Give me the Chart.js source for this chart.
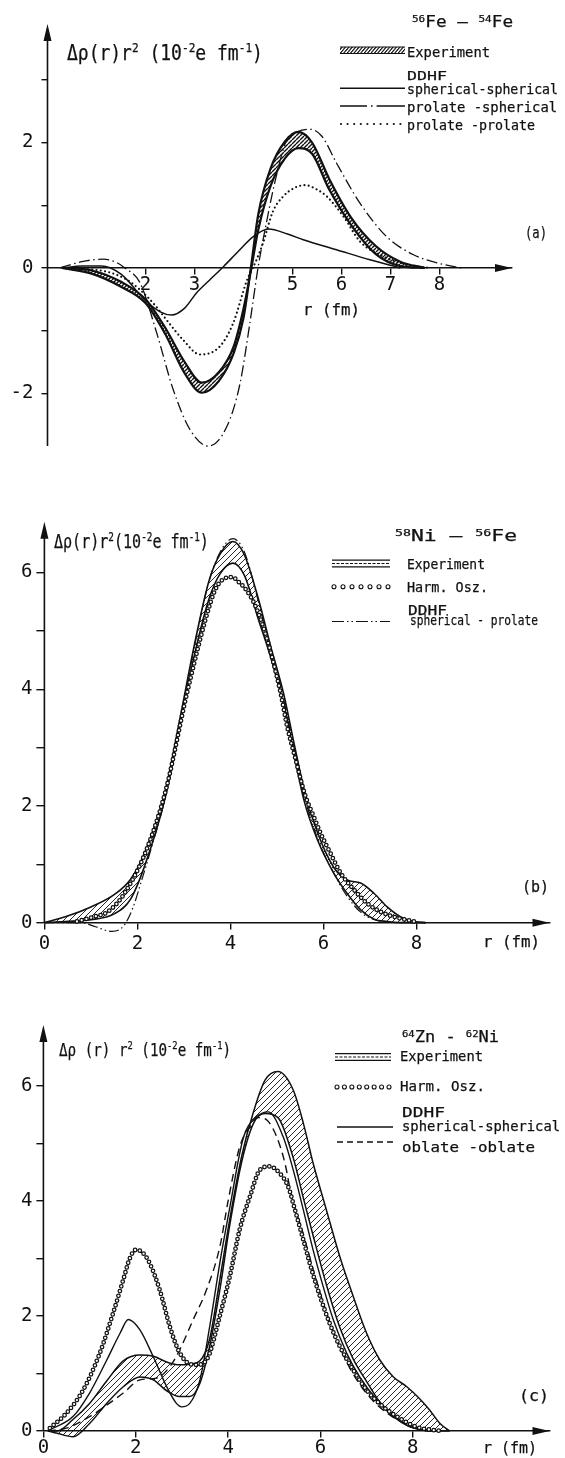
<!DOCTYPE html>
<html>
<head>
<meta charset="utf-8">
<script src="https://cdn.jsdelivr.net/npm/chart.js@4.4.1/dist/chart.umd.min.js"></script>
<style>
html, body { margin: 0; padding: 0; background: #fff; }
body { width: 565px; height: 1458px; position: relative; overflow: hidden; font-family: "DejaVu Sans Mono", monospace; color: #111; }
canvas { position: absolute; left: 0; }
.t { position: absolute; white-space: nowrap; line-height: 1; transform-origin: 0 0; -webkit-text-stroke: 0.25px #111; }
.t sup { font-size: 0.62em; vertical-align: 0; position: relative; top: -0.6em; }
#leg { position: absolute; left: 0; top: 0; }
</style>
</head>
<body>
<canvas id="cA" width="565" height="480" style="top:0"></canvas>
<canvas id="cB" width="565" height="490" style="top:480px"></canvas>
<canvas id="cC" width="565" height="510" style="top:970px"></canvas>
<svg id="leg" width="565" height="1458"></svg>
<script>
// (a) 56Fe - 54Fe
const rExpA = [0.3, 0.9, 1.5, 2.0, 2.4, 2.8, 3.15, 3.5, 3.8, 4.0, 4.15, 4.3, 4.55, 4.85, 5.12, 5.4, 5.75, 6.2, 6.7, 7.2, 7.7];
const expOuterA = [0, -0.09, -0.3, -0.56, -1.05, -1.68, -1.99, -1.8, -1.36, -0.8, 0.0, 0.85, 1.58, 2.02, 2.17, 2.0, 1.42, 0.8, 0.35, 0.1, 0];
const expInnerA = [0, -0.04, -0.22, -0.5, -0.95, -1.5, -1.83, -1.66, -1.25, -0.65, -0.05, 0.6, 1.3, 1.75, 1.91, 1.82, 1.25, 0.68, 0.22, 0.03, 0];
const rSphA = [0.3, 0.7, 1.1, 1.5, 2.0, 2.3, 2.53, 2.8, 3.04, 3.3, 3.59, 3.9, 4.2, 4.51, 4.9, 5.22, 5.9, 6.58, 7.2];
const sphSphA = [0, 0.03, 0.03, -0.1, -0.52, -0.7, -0.75, -0.64, -0.4, -0.2, 0.02, 0.27, 0.5, 0.62, 0.54, 0.45, 0.29, 0.13, 0];
const rProSphA = [0.26, 0.7, 1.14, 1.4, 1.58, 1.89, 2.23, 2.57, 2.91, 3.28, 3.66, 3.93, 4.13, 4.3, 4.45, 4.65, 4.88, 5.1, 5.36, 5.6, 5.9, 6.38, 6.92, 7.47, 8.0, 8.45];
const proSphA = [0, 0.1, 0.14, 0.09, 0, -0.24, -1.04, -1.95, -2.58, -2.84, -2.53, -1.84, -0.88, 0.02, 0.65, 1.4, 2.04, 2.17, 2.21, 2.1, 1.67, 1.03, 0.5, 0.21, 0.07, 0];
const rProProA = [0.3, 0.8, 1.21, 1.6, 1.89, 2.2, 2.43, 2.77, 3.11, 3.52, 3.79, 4.07, 4.25, 4.4, 4.6, 4.81, 5.05, 5.26, 5.5, 5.7, 6.04, 6.38, 6.8, 7.3, 7.8];
const proProA = [0, -0.02, -0.06, -0.18, -0.35, -0.6, -0.83, -1.15, -1.38, -1.25, -0.88, -0.2, 0.1, 0.4, 0.9, 1.14, 1.28, 1.32, 1.25, 1.14, 0.82, 0.42, 0.2, 0.06, 0];
const xTicksA = [2, 3, 5, 6, 7, 8];
const yTicksA = [-2, -1, 0, 1, 2, 3];
const yLabelsA = [-2, 0, 2];

// (b) 58Ni - 56Fe
const rExpB = [0, 0.45, 1.0, 1.5, 1.85, 2.15, 2.6, 2.92, 3.23, 3.54, 3.78, 4.05, 4.3, 4.6, 4.86, 5.15, 5.36, 5.58, 5.87, 6.22, 6.51, 6.8, 7.09, 7.37, 7.66, 7.95, 8.2];
const expOuterB = [0, 0.1, 0.27, 0.48, 0.74, 1.19, 2.27, 3.52, 4.78, 5.86, 6.32, 6.53, 6.3, 5.55, 4.75, 3.9, 3.1, 2.3, 1.55, 0.95, 0.73, 0.68, 0.5, 0.27, 0.1, 0.02, 0];
const expInnerB = [0, 0.02, 0.05, 0.15, 0.4, 0.96, 2.15, 3.4, 4.6, 5.55, 5.98, 6.16, 5.95, 5.2, 4.56, 3.7, 2.9, 2.1, 1.42, 0.85, 0.5, 0.22, 0.06, 0.02, 0, 0, 0];
const rHoB = [0.7, 1.06, 1.37, 1.72, 2.19, 2.61, 3.08, 3.57, 3.71, 3.88, 4.03, 4.2, 4.34, 4.54, 4.79, 5.08, 5.22, 5.4, 5.6, 5.8, 5.94, 6.15, 6.37, 6.66, 6.94, 7.3, 7.66, 7.95];
const hoB = [0.02, 0.1, 0.19, 0.5, 1.24, 2.27, 3.98, 5.48, 5.76, 5.9, 5.92, 5.82, 5.7, 5.42, 4.85, 3.93, 3.36, 2.8, 2.2, 1.8, 1.53, 1.19, 0.85, 0.56, 0.33, 0.16, 0.07, 0.02];
const rSphProB = [0, 0.8, 1.1, 1.45, 1.7, 1.9, 2.1, 2.3, 2.6, 2.92, 3.23, 3.54, 3.8, 4.05, 4.3, 4.6, 4.86, 5.15, 5.36, 5.58, 5.87, 6.22, 6.51, 6.8, 7.1, 7.5];
const sphProB = [0, 0, -0.07, -0.15, -0.06, 0.25, 0.75, 1.28, 2.15, 3.45, 4.75, 5.85, 6.38, 6.58, 6.35, 5.5, 4.65, 3.8, 3.0, 2.2, 1.45, 0.85, 0.45, 0.18, 0.05, 0];
const xTicksB = [0, 2, 4, 6, 8];
const yTicksB = [0, 1, 2, 3, 4, 5, 6];
const yLabelsB = [0, 2, 4, 6];

// (c) 64Zn - 62Ni
const rExpC = [0.1, 0.3, 0.64, 1.0, 1.37, 1.73, 2.09, 2.38, 2.67, 2.95, 3.17, 3.39, 3.6, 3.82, 4.04, 4.3, 4.55, 4.8, 5.08, 5.41, 5.63, 5.84, 6.13, 6.42, 6.71, 7.0, 7.29, 7.58, 7.87, 8.1, 8.35, 8.6, 8.8];
const expOuterC = [0, 0.0, 0.2, 0.48, 0.87, 1.22, 1.32, 1.3, 1.2, 1.15, 1.16, 1.22, 1.6, 2.63, 3.7, 4.8, 5.55, 6.1, 6.25, 5.93, 5.35, 4.66, 3.84, 3.03, 2.34, 1.7, 1.23, 0.94, 0.77, 0.6, 0.38, 0.12, 0];
const expInnerC = [0, -0.04, -0.1, 0.13, 0.48, 0.77, 0.94, 0.89, 0.7, 0.6, 0.6, 0.83, 1.47, 2.45, 3.6, 4.7, 5.35, 5.52, 5.45, 4.75, 4.05, 3.4, 2.54, 1.8, 1.25, 0.86, 0.5, 0.28, 0.1, 0.04, 0, 0, 0];
const rHoC = [0.14, 0.5, 0.86, 1.22, 1.51, 1.73, 1.87, 2.0, 2.15, 2.3, 2.52, 2.74, 2.92, 3.1, 3.32, 3.57, 3.82, 4.04, 4.25, 4.47, 4.69, 4.9, 5.12, 5.3, 5.45, 5.63, 5.81, 5.99, 6.2, 6.42, 6.71, 7.0, 7.36, 7.72, 8.08, 8.4, 8.65];
const hoC = [0.05, 0.31, 0.71, 1.35, 2.05, 2.63, 3.0, 3.15, 3.1, 2.92, 2.45, 1.81, 1.41, 1.2, 1.15, 1.29, 2.0, 2.7, 3.5, 4.07, 4.54, 4.6, 4.48, 4.25, 3.84, 3.32, 2.8, 2.34, 1.87, 1.47, 1.06, 0.71, 0.42, 0.22, 0.07, 0.02, 0];
const rSphC = [0.07, 0.64, 1.0, 1.37, 1.66, 1.84, 2.09, 2.38, 2.67, 2.88, 2.99, 3.17, 3.39, 3.6, 3.82, 4.04, 4.33, 4.6, 4.87, 5.19, 5.41, 5.63, 5.84, 6.06, 6.28, 6.57, 6.85, 7.22, 7.58, 7.94, 8.3];
const sphSphC = [0, 0.25, 0.66, 1.23, 1.7, 1.94, 1.76, 1.29, 0.77, 0.48, 0.42, 0.48, 0.89, 1.81, 2.92, 3.9, 5.1, 5.45, 5.55, 5.12, 4.54, 3.84, 3.15, 2.51, 1.93, 1.35, 0.94, 0.54, 0.25, 0.07, 0];
const rOblC = [0.1, 0.5, 1.0, 1.37, 1.73, 2.09, 2.45, 2.74, 2.95, 3.24, 3.53, 3.82, 4.0, 4.25, 4.47, 4.65, 4.85, 5.05, 5.23, 5.37, 5.6, 5.9, 6.2, 6.6, 7.0, 7.5, 8.0, 8.4];
const oblC = [0, 0.05, 0.25, 0.45, 0.66, 0.89, 0.92, 1.12, 1.41, 1.93, 2.45, 3.2, 4.0, 4.94, 5.29, 5.45, 5.4, 5.12, 4.66, 4.1, 3.5, 2.65, 1.9, 1.15, 0.65, 0.28, 0.08, 0];
const xTicksC = [0, 2, 4, 6, 8];
const yTicksC = [0, 1, 2, 3, 4, 5, 6];
const yLabelsC = [0, 2, 4, 6];

const INK = '#111';
const TICK_FONT = { family: 'DejaVu Sans Mono', size: 19 };

const pts = (rs, vs) => rs.map((r, i) => ({ x: r, y: vs[i] }));

function hatch(canvasId, step, lw) {
    const c = document.createElement('canvas');
    c.width = c.height = step;
    const g = c.getContext('2d');
    g.strokeStyle = INK;
    g.lineWidth = lw;
    g.beginPath();
    for (const o of [-step, 0, step]) {
        g.moveTo(o, step);
        g.lineTo(o + step, 0);
    }
    g.stroke();
    return document.getElementById(canvasId).getContext('2d').createPattern(c, 'repeat');
}

// axis line up the y side, plus the two arrow heads
const arrows = {
    id: 'arrows',
    afterDraw(chart, args, opts) {
        const { ctx, chartArea: a, scales: { x, y } } = chart;
        const x0 = x.getPixelForValue(0);
        const y0 = y.getPixelForValue(0);
        ctx.save();
        ctx.strokeStyle = INK;
        ctx.fillStyle = INK;
        ctx.lineWidth = 1.6;
        ctx.beginPath();
        ctx.moveTo(x0, y.getPixelForValue(opts.yFrom));
        ctx.lineTo(x0, a.top + 8);
        ctx.stroke();
        ctx.beginPath();
        ctx.moveTo(x0, a.top);
        ctx.lineTo(x0 - 4, a.top + 17);
        ctx.lineTo(x0 + 4, a.top + 17);
        ctx.closePath();
        ctx.fill();
        ctx.beginPath();
        ctx.moveTo(a.right, y0);
        ctx.lineTo(a.right - 17, y0 - 4);
        ctx.lineTo(a.right - 17, y0 + 4);
        ctx.closePath();
        ctx.fill();
        ctx.restore();
    }
};

function panel(id, o) {
    return new Chart(document.getElementById(id), {
        type: 'line',
        data: { datasets: o.datasets },
        plugins: [arrows],
        options: {
            responsive: false,
            animation: false,
            events: [],
            layout: { padding: o.pad },
            elements: {
                point: { radius: 0 },
                line: { cubicInterpolationMode: 'monotone', borderColor: INK, borderWidth: 1.4, fill: false }
            },
            plugins: { legend: { display: false }, tooltip: { enabled: false }, arrows: { yFrom: o.yFrom } },
            scales: {
                x: {
                    type: 'linear', min: 0, max: o.xMax,
                    position: { y: 0 },
                    afterFit: s => { s.height = 0; },
                    afterBuildTicks: s => { s.ticks = o.xTicks.map(v => ({ value: v })); },
                    grid: { drawOnChartArea: false, tickLength: 6, color: INK, lineWidth: 1.4 },
                    border: { display: true, color: INK, width: 1.6 },
                    ticks: { autoSkip: false, maxRotation: 0, padding: o.xPad, color: INK, font: TICK_FONT }
                },
                y: {
                    type: 'linear', min: o.yMin, max: o.yMax,
                    position: 'left',
                    afterFit: s => { s.width = o.left; },
                    afterBuildTicks: s => { s.ticks = o.yTicks.map(v => ({ value: v })); },
                    grid: { drawOnChartArea: false, tickLength: o.yTick, color: INK, lineWidth: 1.4 },
                    border: { display: false },
                    ticks: {
                        padding: o.yPad, color: INK, font: TICK_FONT,
                        callback: v => o.yLabels.includes(v) ? String(v) : ''
                    }
                }
            }
        }
    });
}

// hollow circles: black round dots with smaller white dots on the same path
function rings(rs, vs, gap) {
    return [
        { data: pts(rs, vs), borderWidth: 4.8, borderDash: [0, gap], borderCapStyle: 'round', order: 3 },
        { data: pts(rs, vs), borderWidth: 2.3, borderDash: [0, gap], borderCapStyle: 'round', borderColor: '#fff', order: 2 }
    ];
}

panel('cA', {
    left: 47.5, pad: { top: 24, right: 53, bottom: 30.2, left: 0 },
    xMax: 9.48, yMin: -2.9, yMax: 3.89, yFrom: -2.84,
    xTicks: xTicksA, yTicks: yTicksA, yLabels: yLabelsA, xPad: 0, yPad: 8, yTick: 6,
    datasets: [
        { data: pts(rExpA, expOuterA), borderWidth: 2.2, fill: '+1', backgroundColor: hatch('cA', 4, 1.4), order: 10 },
        { data: pts(rExpA, expInnerA), borderWidth: 2.2, order: 10 },
        { data: pts(rSphA, sphSphA), borderWidth: 1.5, order: 5 },
        { data: pts(rProSphA, proSphA), borderWidth: 1.3, borderDash: [11, 3.5, 1.5, 3.5], order: 5 },
        { data: pts(rProProA, proProA), borderWidth: 2.2, borderDash: [0, 4.3], borderCapStyle: 'round', order: 5 }
    ]
});

panel('cB', {
    left: 44.4, pad: { top: 41.7, right: 15.5, bottom: 26.9, left: 0 },
    xMax: 10.86, yMin: -0.35, yMax: 6.87, yFrom: 0,
    xTicks: xTicksB, yTicks: yTicksB, yLabels: yLabelsB, xPad: 4, yPad: 4, yTick: 8,
    datasets: [
        { data: pts(rExpB, expOuterB), borderWidth: 1.6, fill: '+1', backgroundColor: hatch('cB', 6, 0.9), order: 10 },
        { data: pts(rExpB, expInnerB), borderWidth: 1.6, order: 10 },
        { data: pts(rSphProB, sphProB), borderWidth: 1.2, borderDash: [10, 3, 1.5, 3, 1.5, 3], order: 5 },
        ...rings(rHoB, hoB, 4.9)
    ]
});

panel('cC', {
    left: 43.4, pad: { top: 55, right: 15.5, bottom: 31.75, left: 0 },
    xMax: 10.96, yMin: -0.3, yMax: 7.06, yFrom: 0,
    xTicks: xTicksC, yTicks: yTicksC, yLabels: yLabelsC, xPad: 0, yPad: 4, yTick: 7,
    datasets: [
        { data: pts(rExpC, expOuterC), borderWidth: 1.5, fill: '+1', backgroundColor: hatch('cC', 6, 0.9), order: 10 },
        { data: pts(rExpC, expInnerC), borderWidth: 1.5, order: 10 },
        { data: pts(rSphC, sphSphC), borderWidth: 1.4, order: 5 },
        { data: pts(rOblC, oblC), borderWidth: 1.4, borderDash: [8, 5], order: 5 },
        ...rings(rHoC, hoC, 4.9)
    ]
});

// texts: html, left, baseline, width, font size
function txt(html, x, base, w, size) {
    const d = document.createElement('div');
    d.className = 't';
    d.innerHTML = html;
    d.style.fontSize = size + 'px';
    d.style.left = x + 'px';
    d.style.top = (base - 0.846 * size) + 'px';
    document.body.appendChild(d);
    const k = w / d.getBoundingClientRect().width;
    d.style.transform = 'scaleX(' + k.toFixed(3) + ')';
}

txt('Δρ(r)r<sup>2</sup> (10<sup>-2</sup>e fm<sup>-1</sup>)', 66.7, 61, 196, 21);
txt('<sup>56</sup>Fe  –  <sup>54</sup>Fe', 411.7, 28, 101, 15);
txt('Experiment', 406.7, 56.5, 83, 14);
txt('DDHF', 407, 80, 40, 13);
txt('spherical-spherical', 406.7, 94, 151, 14);
txt('prolate -spherical', 407, 112, 150, 14);
txt('prolate -prolate', 407, 130, 128, 14);
txt('(a)', 525, 239, 22, 16);
txt('r (fm)', 302.7, 316, 57, 16);

txt('Δρ(r)r<sup>2</sup>(10<sup>-2</sup>e fm<sup>-1</sup>)', 54, 548, 155, 19);
txt('<sup>58</sup>Ni   –   <sup>56</sup>Fe', 395, 542, 122, 15);
txt('Experiment', 407, 569, 78, 14);
txt('Harm. Osz.', 407, 592, 81, 14);
txt('DDHF', 408, 615, 39, 14);
txt('spherical - prolate', 410, 625, 128, 14);
txt('(b)', 522, 893, 27, 16);
txt('r (fm)', 483, 948, 57, 16);

txt('Δρ (r) r<sup>2</sup> (10<sup>-2</sup>e fm<sup>-1</sup>)', 59, 1056, 172, 18);
txt('<sup>64</sup>Zn - <sup>62</sup>Ni', 402, 1043, 97, 15);
txt('Experiment', 400, 1061, 83, 14);
txt('Harm. Osz.', 400, 1091, 85, 14);
txt('DDHF', 402, 1117, 43, 14);
txt('spherical-spherical', 402, 1131, 158, 14);
txt('oblate  -oblate', 402, 1152, 133, 14);
txt('(c)', 519, 1402, 30, 16);
txt('r (fm)', 483, 1454, 54, 16);

// legend keys
const leg = document.getElementById('leg');
const ln = (x1, x2, y, w, dash, cap) =>
    `<line x1="${x1}" y1="${y}" x2="${x2}" y2="${y}" stroke="${INK}" stroke-width="${w}"` +
    (dash ? ` stroke-dasharray="${dash}"` : '') + (cap ? ` stroke-linecap="${cap}"` : '') + '/>';
const ringsKey = (x1, x2, y, n) => {
    let s = '';
    for (let i = 0; i < n; i++) {
        s += `<circle cx="${x1 + i * (x2 - x1) / (n - 1)}" cy="${y}" r="2" fill="none" stroke="${INK}" stroke-width="1.1"/>`;
    }
    return s;
};
const expKey = (x1, x2, y) => ln(x1, x2, y - 3.3, 1.3) + ln(x1, x2, y, 1, '3 1.5') + ln(x1, x2, y + 3.3, 1.3);

leg.innerHTML =
    `<defs><pattern id="hA" width="3.4" height="8" patternUnits="userSpaceOnUse" patternTransform="skewX(-40)">` +
    `<rect width="1.5" height="8" fill="${INK}"/></pattern></defs>` +
    `<rect x="340" y="47" width="65" height="6.5" fill="url(#hA)"/>` +
    ln(340, 405, 47, 1) + ln(340, 405, 53.5, 1) +
    ln(340, 405, 88.3, 1.4) +
    ln(340, 405, 106, 1.3, '27 4 1.6 4 40') +
    ln(341, 405, 124, 2.2, '0 6.6', 'round') +
    expKey(332, 390, 563.5) +
    ringsKey(334, 388, 586.7, 7) +
    ln(332, 390, 621.5, 1.2, '12 3 1.5 3 1.5 3') +
    expKey(335, 391, 1057) +
    ringsKey(337, 389, 1087, 8) +
    ln(337, 393, 1127, 1.4) +
    ln(337, 393, 1142, 1.4, '6 4');
</script>
</body>
</html>
